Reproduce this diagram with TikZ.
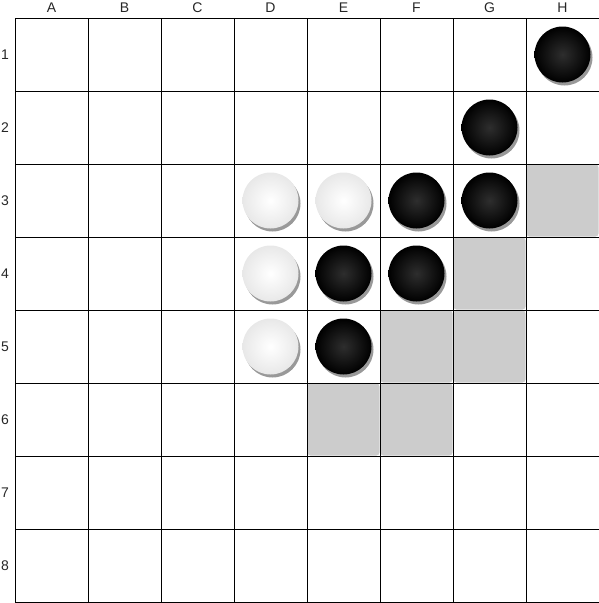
\documentclass[tikz,border=0pt]{standalone}
\usepackage{fontspec}
\setmainfont{Liberation Sans}
\usetikzlibrary{shadows}
\begin{document}
\begin{tikzpicture}[x=1pt, y=-1pt, every node/.style={font=\fontsize{14}{16}\selectfont},
  disc/.style={circle, minimum size=56pt, inner sep=0pt,
    drop shadow={shadow xshift=2pt, shadow yshift=-3pt, opacity=0.4, fill=black}},
  blackdisc/.style={disc, inner color=black!82, outer color=black},
  whitedisc/.style={disc, inner color=white, outer color=black!9}]
  \useasboundingbox (0,0) rectangle (598,603);
  % move hints
  \foreach \c/\r in {8/3,7/4,6/5,7/5,5/6,6/6} \fill[black!20, rounded corners=3pt] ({73*\c-57.5},{73*\r-54.5}) rectangle ++(72,72);
  % board
  \foreach \i in {0,...,8} {
    \draw[line width=0.9pt] ({15+73*\i},18) -- ({15+73*\i},602);
    \draw[line width=0.9pt] (15,{18+73*\i}) -- (599,{18+73*\i});
  }
  \foreach \c/\lbl in {1/A,2/B,3/C,4/D,5/E,6/F,7/G,8/H} \node[text=black!85] (col-\lbl) at ({73*\c-21.5},8) {\lbl};
  \foreach \r in {1,...,8} \node[text=black!85] (row-\r) at (5,{73*\r-18.5}) {\r};
  % pieces
  \foreach \c/\r/\s in {8/1/blackdisc,7/2/blackdisc,4/3/whitedisc,5/3/whitedisc,6/3/blackdisc,7/3/blackdisc,4/4/whitedisc,5/4/blackdisc,6/4/blackdisc,4/5/whitedisc,5/5/blackdisc}
    \node[\s] (disc-\c-\r) at ({73*\c-21.5},{73*\r-18.5}) {};
\end{tikzpicture}
\end{document}
